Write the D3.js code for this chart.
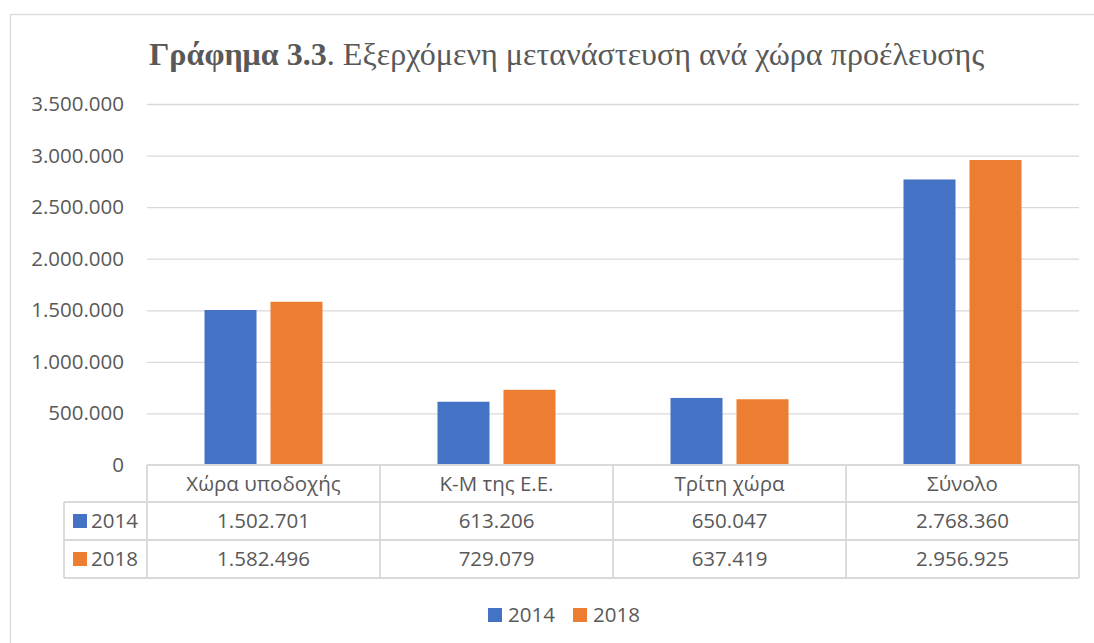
<!DOCTYPE html>
<html>
<head>
<meta charset="utf-8">
<script src="https://cdn.jsdelivr.net/npm/d3@7"></script>
<style>
  html, body { margin: 0; padding: 0; background: #fff; }
  svg { display: block; }
  text { fill: #595959; }
</style>
</head>
<body>
<svg id="chart" width="1094" height="643"></svg>
<script>
const categories = ["Χώρα υποδοχής", "Κ-Μ της Ε.Ε.", "Τρίτη χώρα", "Σύνολο"];
const seriesNames = ["2014", "2018"];
const values2014 = [1502701, 613206, 650047, 2768360];
const values2018 = [1582496, 729079, 637419, 2956925];
const yTicks = [0, 500000, 1000000, 1500000, 2000000, 2500000, 3000000, 3500000];
const titleBold = "Γράφημα 3.3";
const titleRest = ". Εξερχόμενη μετανάστευση ανά χώρα προέλευσης";

(function () {
const colors = ["#4472C4", "#ED7D31"];
const textColor = "#595959";
const lineColor = "#D9D9D9";
const seriesValues = [values2014, values2018];

const locale = d3.formatLocale({decimal: ",", thousands: ".", grouping: [3], currency: ["", "€"]});
const fmt = locale.format(",d");

const svg = d3.select("#chart");
const W = 1094, H = 643;
const pLeft = 147, pRight = 1079, pBottom = 465, pTop = 104;
const legendColLeft = 64;
const rowEdges = [465, 502, 540, 578];
const fontSans = "'Open Sans', 'Noto Sans', sans-serif";

svg.append("rect").attr("width", W).attr("height", H).attr("fill", "#fff");
svg.append("rect").attr("x", 10.5).attr("y", 14.5).attr("width", 1200).attr("height", 800)
  .attr("fill", "none").attr("stroke", lineColor).attr("stroke-width", 1.3);

const title = svg.append("text")
  .attr("x", 566.5).attr("y", 65)
  .attr("text-anchor", "middle")
  .style("font-family", "'Liberation Serif', 'Times New Roman', serif")
  .style("font-size", "32.1px");
title.append("tspan").attr("font-weight", "bold").text(titleBold);
title.append("tspan").text(titleRest);

const y = d3.scaleLinear().domain([0, 3500000]).range([pBottom, pTop]);
const x0 = d3.scaleBand().domain(categories).range([pLeft, pRight]).padding(0);
const x1 = d3.scaleBand().domain(seriesNames).range([57.5, x0.bandwidth() - 57.5]).paddingInner(0.212).paddingOuter(0);

const grid = svg.append("g").attr("transform", `translate(${pLeft},0)`)
  .call(d3.axisLeft(y).tickValues(yTicks.filter(t => t > 0)).tickSize(-(pRight - pLeft)).tickFormat(""));
grid.select(".domain").remove();
grid.selectAll("line").attr("stroke", lineColor).attr("stroke-width", 1.3);

const yAxis = svg.append("g").attr("transform", `translate(${pLeft},0)`)
  .call(d3.axisLeft(y).tickValues(yTicks).tickSize(0).tickPadding(23).tickFormat(fmt));
yAxis.select(".domain").remove();
yAxis.selectAll("text").style("font-family", fontSans).style("font-size", "20.5px").attr("fill", textColor);

const groups = svg.append("g").selectAll("g").data(categories).join("g")
  .attr("transform", d => `translate(${x0(d)},0)`);
groups.selectAll("rect")
  .data((d, i) => seriesNames.map((s, j) => ({s, v: seriesValues[j][i], j})))
  .join("rect")
  .attr("x", d => x1(d.s))
  .attr("width", x1.bandwidth())
  .attr("y", d => y(d.v))
  .attr("height", d => y(0) - y(d.v))
  .attr("fill", d => colors[d.j]);

const tbl = svg.append("g").attr("fill", "none").attr("stroke", lineColor).attr("stroke-width", 1.8);
tbl.append("line").attr("x1", pLeft).attr("x2", pRight).attr("y1", rowEdges[0]).attr("y2", rowEdges[0]);
rowEdges.slice(1).forEach(yy => {
  tbl.append("line").attr("x1", legendColLeft).attr("x2", pRight).attr("y1", yy).attr("y2", yy);
});
const colEdges = categories.map(c => x0(c)).concat([pRight]);
colEdges.forEach(xx => {
  tbl.append("line").attr("x1", xx).attr("x2", xx).attr("y1", rowEdges[0]).attr("y2", rowEdges[3]);
});
tbl.append("line").attr("x1", legendColLeft).attr("x2", legendColLeft).attr("y1", rowEdges[1]).attr("y2", rowEdges[3]);

svg.append("g").selectAll("text").data(categories).join("text")
  .attr("x", d => x0(d) + x0.bandwidth() / 2)
  .attr("y", (rowEdges[0] + rowEdges[1]) / 2)
  .attr("dy", "0.36em")
  .attr("text-anchor", "middle")
  .style("font-family", fontSans).style("font-size", "20.5px")
  .text(d => d);

seriesNames.forEach((s, j) => {
  const cy = (rowEdges[j + 1] + rowEdges[j + 2]) / 2;
  const rg = svg.append("g");
  rg.append("rect").attr("x", 73).attr("y", cy - 7).attr("width", 14).attr("height", 14).attr("fill", colors[j]);
  rg.append("text").attr("x", 91).attr("y", cy).attr("dy", "0.36em")
    .style("font-family", fontSans).style("font-size", "20.5px").text(s);
  rg.selectAll("text.val").data(seriesValues[j]).join("text").attr("class", "val")
    .attr("x", (d, i) => x0(categories[i]) + x0.bandwidth() / 2)
    .attr("y", cy).attr("dy", "0.36em")
    .attr("text-anchor", "middle")
    .style("font-family", fontSans).style("font-size", "20.5px")
    .text(d => fmt(d));
});

const legendX = [488, 573];
const lg = svg.append("g");
seriesNames.forEach((s, j) => {
  lg.append("rect").attr("x", legendX[j]).attr("y", 608).attr("width", 14).attr("height", 14).attr("fill", colors[j]);
  lg.append("text").attr("x", legendX[j] + 20).attr("y", 615).attr("dy", "0.36em")
    .style("font-family", fontSans).style("font-size", "20.5px").text(s);
});
})();
</script>
</body>
</html>
